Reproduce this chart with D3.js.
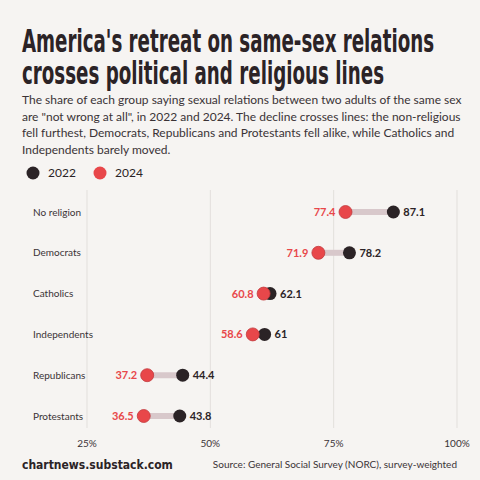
<!DOCTYPE html>
<html lang="en">
<style>
body { margin: 0; background: #f6f4f2; }
text { font-family: Lato, sans-serif; }
</style>
<body>
<svg id="chart" width="480" height="480"></svg>
<script src="https://cdn.jsdelivr.net/npm/d3@7"></script>
<script>
var groups = ["No religion", "Democrats", "Catholics", "Independents", "Republicans", "Protestants"];
var v2022 = [87.1, 78.2, 62.1, 61, 44.4, 43.8];
var v2024 = [77.4, 71.9, 60.8, 58.6, 37.2, 36.5];
var ticks = [25, 50, 75, 100];

var svg = d3.select("#chart");
svg.append("rect").attr("width", 480).attr("height", 480).attr("fill", "#f6f4f2");

var title = ["America's retreat on same-sex relations", "crosses political and religious lines"];
svg.selectAll(".title").data(title).enter().append("text")
  .attr("x", 22).attr("y", function(d, i) { return 52 + i * 32; })
  .style("font-family", "'Liberation Sans Narrow', 'DejaVu Sans Condensed', sans-serif")
  .style("font-weight", "bold").style("font-size", "32px").attr("fill", "#2b2326")
  .attr("textLength", function(d, i) { return i ? 362 : 412; })
  .attr("lengthAdjust", "spacingAndGlyphs")
  .text(function(d) { return d; });

var sub = ["The share of each group saying sexual relations between two adults of the same sex",
  "are \"not wrong at all\", in 2022 and 2024. The decline crosses lines: the non-religious",
  "fell furthest, Democrats, Republicans and Protestants fell alike, while Catholics and",
  "Independents barely moved."];
svg.selectAll(".sub").data(sub).enter().append("text")
  .attr("x", 22).attr("y", function(d, i) { return 104 + i * 16.5; })
  .style("font-size", "12px").attr("fill", "#3a3336")
  .text(function(d) { return d; });

var dark = "#2b2326", red = "#e8474a";
[[dark, "2022", 33], [red, "2024", 100]].forEach(function(l) {
  svg.append("circle").attr("cx", l[2]).attr("cy", 173).attr("r", 6.5).attr("fill", l[0]);
  svg.append("text").attr("x", l[2] + 15).attr("y", 177).style("font-size", "12px")
    .attr("fill", dark).text(l[1]);
});

var x = d3.scaleLinear().domain([25, 100]).range([87, 457]);
var y = d3.scalePoint().domain(groups).range([212, 416]);

svg.selectAll(".grid").data(ticks).enter().append("line")
  .attr("x1", x).attr("x2", x).attr("y1", 190).attr("y2", 428)
  .attr("stroke", "#e2dfdc").attr("stroke-width", 1);
svg.selectAll(".tick").data(ticks).enter().append("text")
  .attr("x", x).attr("y", 447).attr("text-anchor", "middle")
  .style("font-size", "10px").attr("fill", "#3a3336")
  .text(function(d) { return d + "%"; });

svg.selectAll(".lab").data(groups).enter().append("text")
  .attr("x", 33).attr("y", function(d) { return y(d) + 3.5; })
  .style("font-size", "10px").attr("fill", "#3a3336").text(function(d) { return d; });

var rows = groups.map(function(g, i) { return { g: g, a: v2022[i], b: v2024[i] }; });
var row = svg.selectAll(".row").data(rows).enter().append("g");
row.append("line")
  .attr("x1", function(d) { return x(d.b); }).attr("x2", function(d) { return x(d.a); })
  .attr("y1", function(d) { return y(d.g); }).attr("y2", function(d) { return y(d.g); })
  .attr("stroke", "#d8c8cb").attr("stroke-width", 6);
row.append("circle").attr("cx", function(d) { return x(d.a); })
  .attr("cy", function(d) { return y(d.g); }).attr("r", 6.5).attr("fill", dark);
row.append("circle").attr("cx", function(d) { return x(d.b); })
  .attr("cy", function(d) { return y(d.g); }).attr("r", 6.5).attr("fill", red)
  .attr("stroke", "#c23a3d").attr("stroke-width", 0.8);
row.append("text").attr("x", function(d) { return x(d.a) + 10; })
  .attr("y", function(d) { return y(d.g) + 4; })
  .style("font-size", "11px").style("font-weight", "bold").attr("fill", dark)
  .text(function(d) { return d.a; });
row.append("text").attr("x", function(d) { return x(d.b) - 10; })
  .attr("y", function(d) { return y(d.g) + 4; }).attr("text-anchor", "end")
  .style("font-size", "11px").style("font-weight", "bold").attr("fill", red)
  .text(function(d) { return d.b; });

svg.append("text").attr("x", 22).attr("y", 469)
  .style("font-family", "'Liberation Sans Narrow', 'DejaVu Sans Condensed', sans-serif").style("font-weight", "bold")
  .style("font-size", "12px").attr("fill", dark).text("chartnews.substack.com");
svg.append("text").attr("x", 457).attr("y", 468).attr("text-anchor", "end")
  .style("font-size", "10px").attr("fill", "#3a3336")
  .text("Source: General Social Survey (NORC), survey-weighted");
</script>
</body>
</html>
